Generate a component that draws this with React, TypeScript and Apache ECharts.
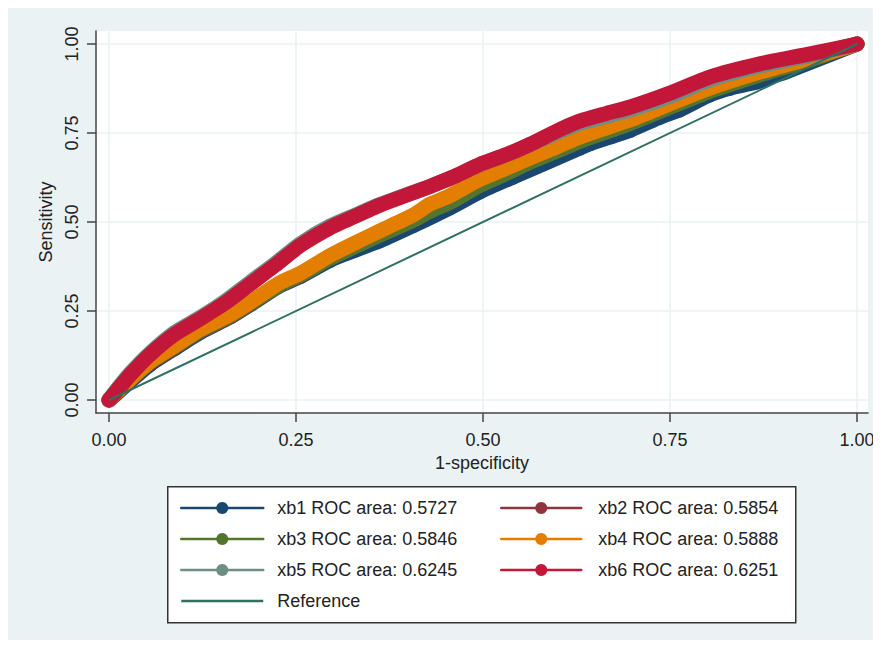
import React, { useEffect, useRef } from "react";
import * as echarts from "echarts";

// ROC curves: [1-specificity, sensitivity]
const xb1: number[][] = [
  [0, 0], [0.01, 0.018], [0.028, 0.052], [0.055, 0.1], [0.088, 0.145], [0.122, 0.19],
  [0.162, 0.233], [0.189, 0.268], [0.229, 0.322], [0.255, 0.346], [0.295, 0.392],
  [0.318, 0.412], [0.362, 0.447], [0.407, 0.49], [0.456, 0.54], [0.496, 0.585],
  [0.54, 0.626], [0.63, 0.708], [0.643, 0.72], [0.697, 0.758], [0.737, 0.795],
  [0.763, 0.815], [0.803, 0.857], [0.83, 0.876], [0.866, 0.893], [0.884, 0.907],
  [0.904, 0.921], [1, 1],
];
const xb2: number[][] = [
  [0, 0], [0.01, 0.02], [0.028, 0.056], [0.055, 0.104], [0.088, 0.148], [0.122, 0.193],
  [0.162, 0.234], [0.189, 0.27], [0.229, 0.324], [0.255, 0.348], [0.295, 0.398],
  [0.318, 0.423], [0.362, 0.468], [0.407, 0.512], [0.429, 0.54], [0.456, 0.562],
  [0.496, 0.612], [0.53, 0.643], [0.563, 0.673], [0.6, 0.705], [0.63, 0.732],
  [0.697, 0.781], [0.75, 0.826], [0.803, 0.871], [0.87, 0.917], [0.937, 0.957], [1, 1],
];
const xb3: number[][] = [
  [0, 0], [0.01, 0.02], [0.028, 0.056], [0.055, 0.106], [0.088, 0.15], [0.122, 0.195],
  [0.162, 0.236], [0.189, 0.271], [0.229, 0.324], [0.255, 0.35], [0.295, 0.397],
  [0.318, 0.42], [0.362, 0.463], [0.407, 0.505], [0.429, 0.53], [0.456, 0.555],
  [0.496, 0.603], [0.53, 0.635], [0.563, 0.668], [0.6, 0.7], [0.63, 0.727],
  [0.697, 0.777], [0.75, 0.822], [0.803, 0.867], [0.87, 0.913], [0.937, 0.955], [1, 1],
];
const xb4: number[][] = [
  [0, 0], [0.01, 0.022], [0.028, 0.058], [0.055, 0.108], [0.088, 0.152], [0.122, 0.198],
  [0.162, 0.24], [0.189, 0.275], [0.229, 0.33], [0.255, 0.355], [0.295, 0.405],
  [0.318, 0.43], [0.362, 0.475], [0.407, 0.52], [0.429, 0.55], [0.452, 0.57],
  [0.496, 0.62], [0.53, 0.65], [0.563, 0.68], [0.6, 0.712], [0.63, 0.739],
  [0.697, 0.787], [0.75, 0.832], [0.803, 0.876], [0.87, 0.921], [0.937, 0.96], [1, 1],
];
const xb5: number[][] = [
  [0, 0], [0.01, 0.028], [0.028, 0.074], [0.055, 0.132], [0.088, 0.19], [0.122, 0.232],
  [0.155, 0.277], [0.189, 0.331], [0.222, 0.383], [0.255, 0.438], [0.295, 0.488],
  [0.33, 0.52], [0.362, 0.549], [0.4, 0.578], [0.429, 0.6], [0.462, 0.628],
  [0.496, 0.662], [0.53, 0.688], [0.563, 0.718], [0.6, 0.752], [0.63, 0.778],
  [0.665, 0.797], [0.697, 0.815], [0.75, 0.853], [0.803, 0.899], [0.87, 0.938],
  [0.937, 0.968], [1, 1],
];
const xb6: number[][] = [
  [0, 0], [0.01, 0.025], [0.028, 0.07], [0.055, 0.128], [0.088, 0.185], [0.122, 0.228],
  [0.155, 0.272], [0.189, 0.326], [0.222, 0.378], [0.255, 0.433], [0.295, 0.483],
  [0.33, 0.517], [0.362, 0.547], [0.4, 0.577], [0.429, 0.6], [0.462, 0.628],
  [0.496, 0.662], [0.53, 0.688], [0.563, 0.718], [0.6, 0.757], [0.63, 0.784],
  [0.665, 0.805], [0.697, 0.823], [0.75, 0.862], [0.803, 0.907], [0.87, 0.944],
  [0.937, 0.972], [1, 1],
];
const referenceLine: number[][] = [[0, 0], [1, 1]];

const seriesNames = [
  "xb1 ROC area: 0.5727",
  "xb2 ROC area: 0.5854",
  "xb3 ROC area: 0.5846",
  "xb4 ROC area: 0.5888",
  "xb5 ROC area: 0.6245",
  "xb6 ROC area: 0.6251",
];
const referenceName = "Reference";
const xTicks = [0, 0.25, 0.5, 0.75, 1];
const yTicks = [0, 0.25, 0.5, 0.75, 1];
const xTitle = "1-specificity";
const yTitle = "Sensitivity";

const seriesData = [xb1, xb2, xb3, xb4, xb5, xb6];
const colors = ["#1a476f", "#90353b", "#55752f", "#e37e00", "#6e8e84", "#c3173a"];
const refColor = "#2e7062";
const FONT = "'Liberation Sans', Arial, sans-serif";

export default function App() {
  const ref = useRef<HTMLDivElement>(null);

  useEffect(() => {
    document.documentElement.style.overflow = "hidden";
    document.body.style.overflow = "hidden";
    const chart = echarts.init(ref.current!, null, { renderer: "svg" });

    const bandSeries = seriesData.map((d, i) => ({
      name: seriesNames[i],
      type: "line",
      data: d,
      symbol: "circle",
      symbolSize: 15,
      showSymbol: i === 0,
      smooth: 0.2,
      color: colors[i],
      itemStyle: { color: colors[i] },
      lineStyle: { width: 15, color: colors[i], cap: "round", join: "round" },
      silent: true,
      emphasis: { disabled: true },
      z: 2 + i * 0.01,
    }));

    const legendCommon = {
      orient: "vertical",
      itemWidth: 82,
      itemHeight: 15,
      itemGap: 13,
      selectedMode: false,
      lineStyle: { width: 2.5 },
      itemStyle: { borderWidth: 0 },
      textStyle: { fontSize: 18, color: "#222", fontFamily: FONT, padding: [0, 0, 0, 9] },
    };

    const option: any = {
      animation: false,
      backgroundColor: "#eaf2f3",
      textStyle: { fontFamily: FONT },
      grid: {
        left: 88,
        top: 23,
        width: 772,
        height: 382,
        show: true,
        backgroundColor: "#ffffff",
        borderWidth: 0,
      },
      xAxis: {
        type: "value",
        min: -0.01738,
        max: 1.0147,
        name: xTitle,
        nameLocation: "middle",
        nameGap: 40,
        nameTextStyle: { fontSize: 18, color: "#222", fontFamily: FONT },
        axisLine: { show: true, onZero: false, lineStyle: { color: "#444", width: 1.5 } },
        axisTick: { show: true, length: 9, customValues: xTicks, lineStyle: { color: "#444", width: 1.5 } },
        axisLabel: {
          customValues: xTicks,
          formatter: (v: number) => v.toFixed(2),
          fontSize: 18,
          color: "#222",
          margin: 18,
          fontFamily: FONT,
        },
        splitLine: { show: true, lineStyle: { color: "#eaf2f3", width: 1.5 } },
      },
      yAxis: {
        type: "value",
        min: -0.0365,
        max: 1.0365,
        name: yTitle,
        nameLocation: "middle",
        nameGap: 40,
        nameTextStyle: { fontSize: 18, color: "#222", fontFamily: FONT },
        axisLine: { show: true, onZero: false, lineStyle: { color: "#444", width: 1.5 } },
        axisTick: { show: true, length: 9, customValues: yTicks, lineStyle: { color: "#444", width: 1.5 } },
        axisLabel: {
          customValues: yTicks,
          formatter: (v: number) => v.toFixed(2),
          rotate: 90,
          fontSize: 18,
          color: "#222",
          margin: 15,
          fontFamily: FONT,
        },
        splitLine: { show: true, lineStyle: { color: "#eaf2f3", width: 1.5 } },
      },
      legend: [
        {
          ...legendCommon,
          left: 167,
          top: 486,
          data: [
            seriesNames[0],
            seriesNames[2],
            seriesNames[4],
            { name: referenceName, icon: "path://M0,0H82V2.5H0Z" },
          ],
        },
        {
          ...legendCommon,
          left: 487,
          top: 486,
          itemWidth: 80,
          textStyle: { ...legendCommon.textStyle, padding: [0, 0, 0, 12] },
          data: [seriesNames[1], seriesNames[3], seriesNames[5]],
        },
      ],
      graphic: [
        {
          type: "rect",
          left: 159,
          top: 478,
          shape: { width: 628, height: 136 },
          style: { fill: "#ffffff", stroke: "#333", lineWidth: 1.5 },
          z: 3,
          silent: true,
        },
      ],
      series: [
        ...bandSeries,
        {
          name: referenceName,
          type: "line",
          data: referenceLine,
          symbol: "none",
          color: refColor,
          itemStyle: { color: refColor },
          lineStyle: { width: 2, color: refColor },
          silent: true,
          emphasis: { disabled: true },
          z: 3,
        },
      ],
    };

    chart.setOption(option);
    return () => chart.dispose();
  }, []);

  return <div ref={ref} style={{ width: 873, height: 632 }} />;
}
